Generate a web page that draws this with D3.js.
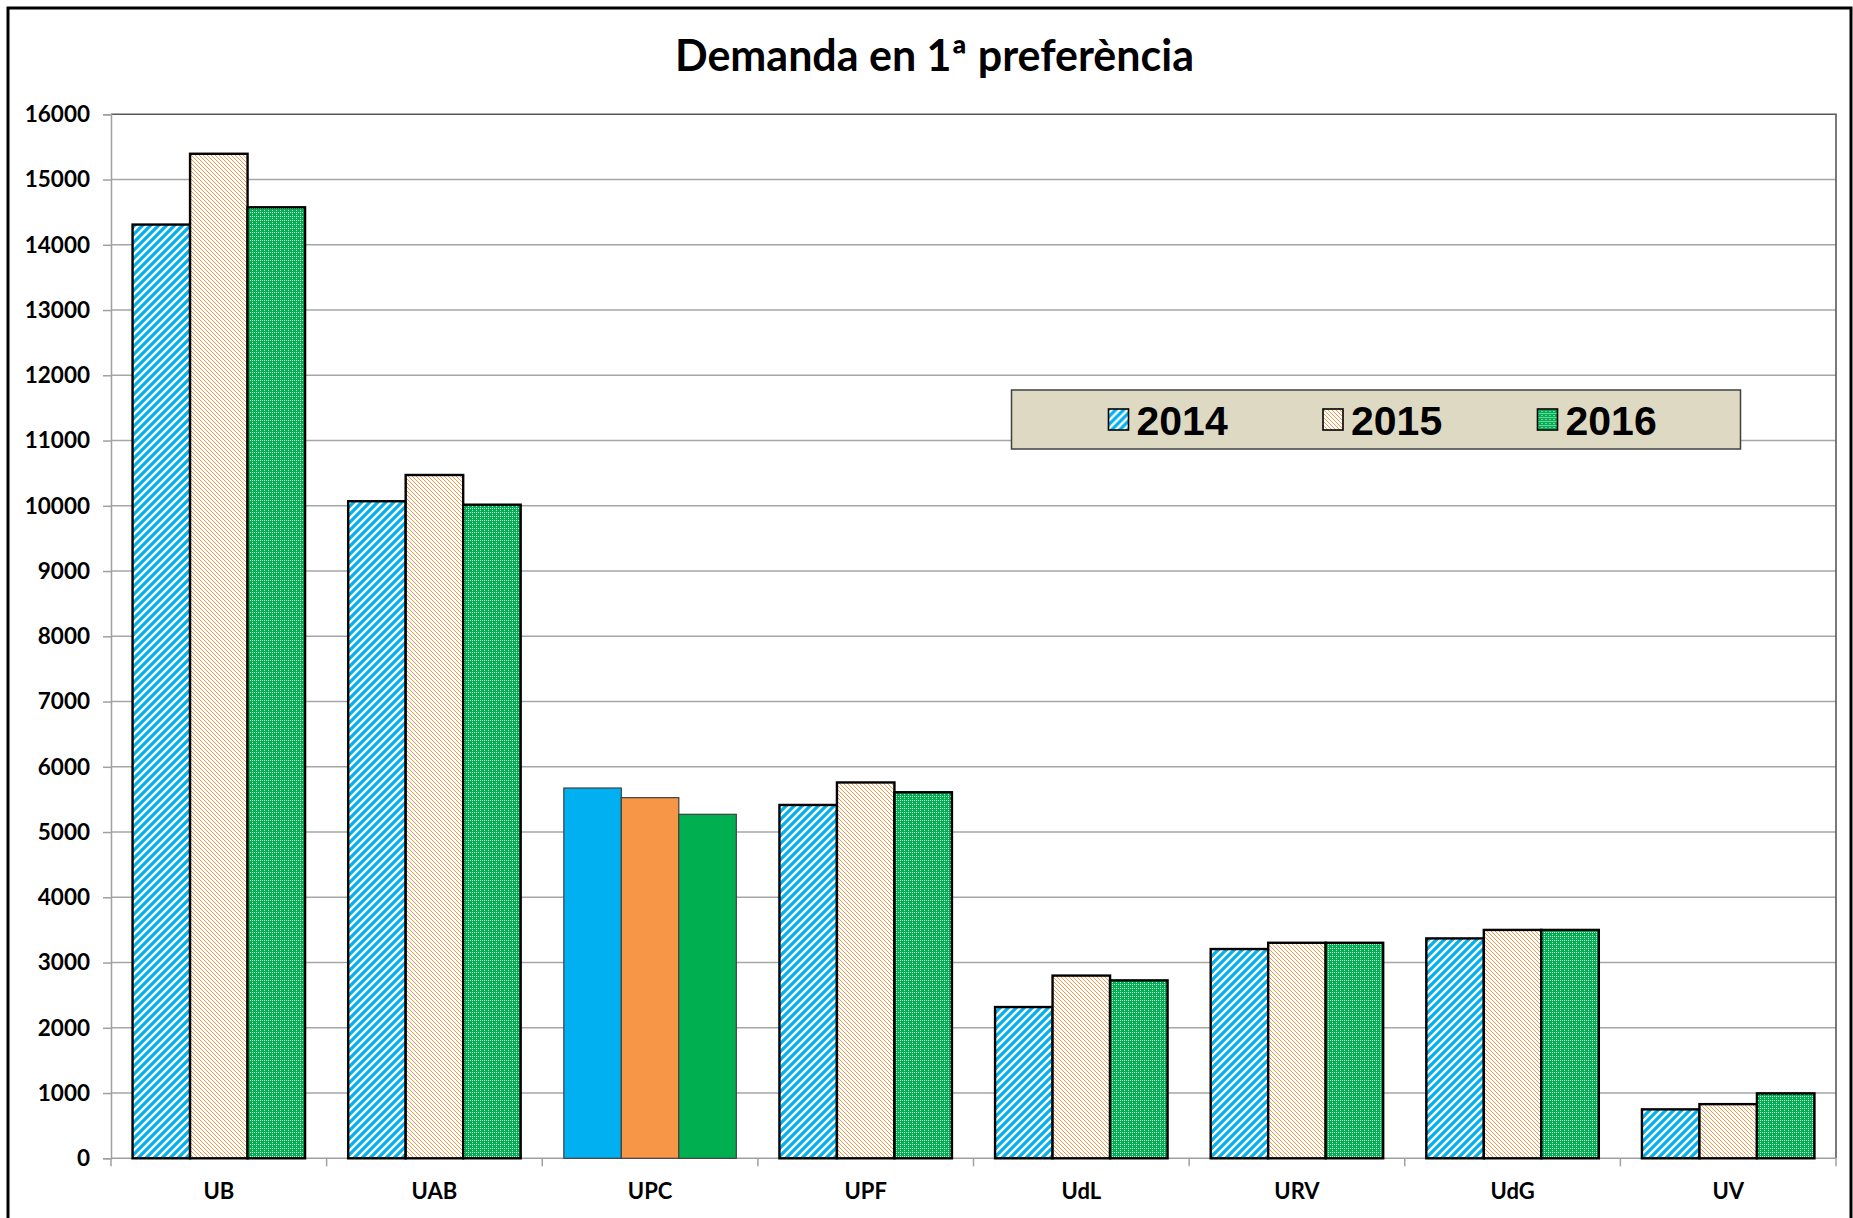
<!DOCTYPE html>
<html>
<head>
<meta charset="utf-8">
<script src="https://cdn.jsdelivr.net/npm/d3@7"></script>
<style>
  html, body { margin: 0; padding: 0; background: #fff; }
  svg { display: block; }
</style>
</head>
<body>
<div id="chart"></div>
<script>
// Data
const categories = ['UB', 'UAB', 'UPC', 'UPF', 'UdL', 'URV', 'UdG', 'UV'];
const years = ['2014', '2015', '2016'];
const values2014 = [14310, 10070, 5675, 5415, 2318, 3207, 3370, 750];
const values2015 = [15395, 10472, 5527, 5760, 2800, 3303, 3500, 830];
const values2016 = [14575, 10017, 5272, 5610, 2727, 3303, 3500, 995];
const yTicks = [0, 1000, 2000, 3000, 4000, 5000, 6000, 7000, 8000,
  9000, 10000, 11000, 12000, 13000, 14000, 15000, 16000];
const solidCategory = 'UPC';
const titleText = 'Demanda en 1ª preferència';

const seriesByYear = { '2014': values2014, '2015': values2015, '2016': values2016 };
const solidColor = { '2014': '#00B0F0', '2015': '#F79646', '2016': '#00B050' };

const W = 1853, H = 1218;
const plot = { left: 111, right: 1836, top: 114.3, bottom: 1158.3 };

const svg = d3.select('#chart').append('svg')
  .attr('width', W).attr('height', H)
  .attr('viewBox', [0, 0, W, H]);

// Fill patterns
const defs = svg.append('defs');

const p14 = defs.append('pattern')
  .attr('id', 'pat2014').attr('patternUnits', 'userSpaceOnUse')
  .attr('width', 8).attr('height', 8);
p14.append('rect').attr('width', 8).attr('height', 8).attr('fill', '#fff');
p14.append('path')
  .attr('d', 'M-2,2 L2,-2 M0,8 L8,0 M6,10 L10,6')
  .attr('stroke', '#00B0F0').attr('stroke-width', 3.2);

const p15 = defs.append('pattern')
  .attr('id', 'pat2015').attr('patternUnits', 'userSpaceOnUse')
  .attr('width', 4).attr('height', 4);
p15.append('rect').attr('width', 4).attr('height', 4).attr('fill', '#fff');
p15.append('path')
  .attr('d', 'M0,0 L4,4 M-1,3 L1,5 M3,-1 L5,1')
  .attr('stroke', '#F79646').attr('stroke-width', 1);

const p16 = defs.append('pattern')
  .attr('id', 'pat2016').attr('patternUnits', 'userSpaceOnUse')
  .attr('width', 4).attr('height', 4);
p16.append('rect').attr('width', 4).attr('height', 4).attr('fill', '#00B050');
[[0, 0], [2, 0], [0, 2]].forEach(([px, py]) => {
  p16.append('rect').attr('x', px).attr('y', py)
    .attr('width', 1).attr('height', 1).attr('fill', '#fff').attr('opacity', 0.85);
});

function patternFill(year) { return `url(#pat${year})`; }

// Scales
const x0 = d3.scaleBand().domain(categories)
  .range([plot.left, plot.right]).paddingInner(0.2).paddingOuter(0.1);
const x1 = d3.scaleBand().domain(years).range([0, x0.bandwidth()]).padding(0);
const y = d3.scaleLinear().domain([0, 16000]).range([plot.bottom, plot.top]);

// Gridlines
svg.append('g').selectAll('line')
  .data(yTicks.filter(t => t > 0 && t < 16000))
  .join('line')
  .attr('x1', plot.left).attr('x2', plot.right)
  .attr('y1', d => y(d)).attr('y2', d => y(d))
  .attr('stroke', '#A6A6A6').attr('stroke-width', 1.4);

// Plot area border (top + right)
svg.append('path')
  .attr('d', `M${plot.left},${y(16000)} H${plot.right} V${plot.bottom}`)
  .attr('fill', 'none').attr('stroke', '#595959').attr('stroke-width', 1.6);

// Y axis
const yAxis = svg.append('g')
  .attr('transform', `translate(${plot.left},0)`)
  .call(d3.axisLeft(y).tickValues(yTicks).tickSize(8).tickPadding(13).tickFormat(d3.format('d')));
yAxis.select('.domain').attr('stroke', '#A0A0A0').attr('stroke-width', 1.5);
yAxis.selectAll('.tick line').attr('stroke', '#A0A0A0').attr('stroke-width', 1.5);
yAxis.selectAll('.tick text')
  .attr('font-family', 'Lato, "Open Sans", sans-serif')
  .attr('font-weight', 'bold').attr('font-size', 22.5).attr('fill', '#000');

// X axis (ticks at category boundaries)
const step = x0.step();
const boundaries = d3.range(categories.length + 1).map(i => plot.left + i * step);
svg.append('line')
  .attr('x1', plot.left).attr('x2', plot.right)
  .attr('y1', plot.bottom).attr('y2', plot.bottom)
  .attr('stroke', '#A0A0A0').attr('stroke-width', 1.5);
svg.append('g').selectAll('line')
  .data(boundaries)
  .join('line')
  .attr('x1', d => d).attr('x2', d => d)
  .attr('y1', plot.bottom).attr('y2', plot.bottom + 8)
  .attr('stroke', '#A0A0A0').attr('stroke-width', 1.5);
svg.append('g').selectAll('text')
  .data(categories)
  .join('text')
  .attr('x', d => x0(d) + x0.bandwidth() / 2)
  .attr('y', 1193)
  .attr('text-anchor', 'middle')
  .attr('dominant-baseline', 'middle')
  .attr('font-family', 'Lato, "Open Sans", sans-serif')
  .attr('font-weight', 'bold').attr('font-size', 22)
  .text(d => d);

// Bars
const barData = [];
categories.forEach((c, i) => {
  years.forEach(yr => barData.push({ cat: c, year: yr, value: seriesByYear[yr][i] }));
});

svg.append('g').selectAll('rect')
  .data(barData)
  .join('rect')
  .attr('x', d => x0(d.cat) + x1(d.year))
  .attr('y', d => y(d.value))
  .attr('width', x1.bandwidth())
  .attr('height', d => y(0) - y(d.value))
  .attr('fill', d => d.cat === solidCategory ? solidColor[d.year] : patternFill(d.year))
  .attr('stroke', d => d.cat === solidCategory ? '#404040' : '#000')
  .attr('stroke-width', d => d.cat === solidCategory ? 1.2 : 2.4);

// Title
const title = svg.append('text')
  .attr('x', 934.5).attr('y', 71)
  .attr('text-anchor', 'middle')
  .attr('font-family', 'Lato, "Open Sans", sans-serif')
  .attr('font-weight', 'bold').attr('font-size', 40)
  .text(titleText);
const tw = title.node().getComputedTextLength();
if (tw > 0) title.attr('font-size', 40 * 519 / tw);

// Legend
const legend = svg.append('g');
legend.append('rect')
  .attr('x', 1011.5).attr('y', 390)
  .attr('width', 729).attr('height', 59)
  .attr('fill', '#DDD9C3').attr('stroke', '#404040').attr('stroke-width', 1.5);
const legendX = d3.scalePoint().domain(years).range([1108.5, 1537.5]);
const item = legend.selectAll('g.item')
  .data(years)
  .join('g').attr('class', 'item')
  .attr('transform', d => `translate(${legendX(d)},409)`);
item.append('rect')
  .attr('width', 20).attr('height', 21)
  .attr('fill', d => patternFill(d))
  .attr('stroke', '#000').attr('stroke-width', 1.6);
item.append('text')
  .attr('x', 28).attr('y', 26)
  .attr('font-family', '"Liberation Sans", Arial, sans-serif')
  .attr('font-weight', 'bold').attr('font-size', 41)
  .text(d => d);

// Outer chart border
svg.append('rect')
  .attr('x', 8).attr('y', 8)
  .attr('width', 1843).attr('height', 1240)
  .attr('fill', 'none').attr('stroke', '#000').attr('stroke-width', 3);
</script>
</body>
</html>
